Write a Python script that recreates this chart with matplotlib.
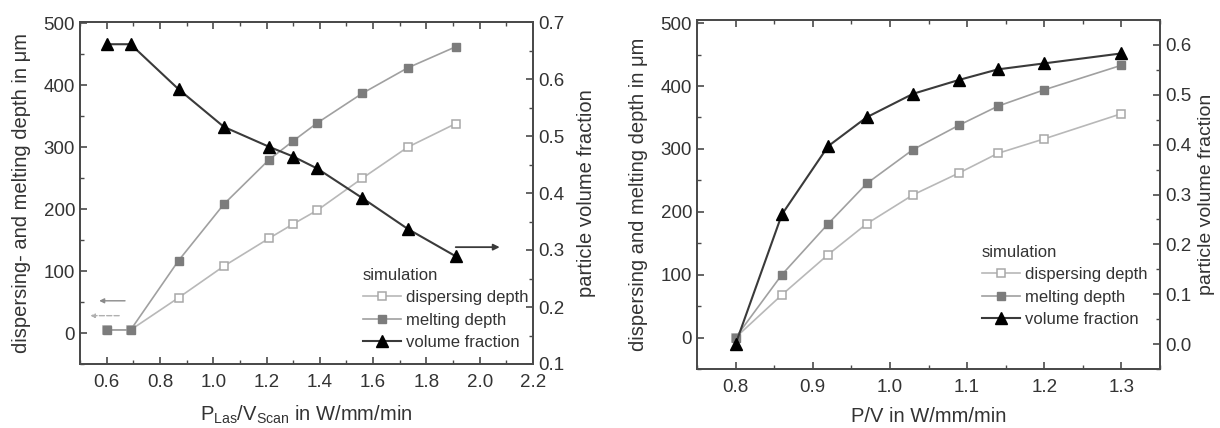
import matplotlib
matplotlib.use("Agg")
import matplotlib.pyplot as plt
from matplotlib.ticker import MultipleLocator, FormatStrFormatter

plt.rcParams['font.family'] = ['Liberation Sans', 'DejaVu Sans']
plt.rcParams['mathtext.fontset'] = 'custom'
plt.rcParams['mathtext.rm'] = 'Liberation Sans'
plt.rcParams['mathtext.it'] = 'Liberation Sans'

# ---- data: left panel ----
x_left = [0.6, 0.69, 0.87, 1.04, 1.21, 1.3, 1.39, 1.56, 1.73, 1.91]
disp_left = [5, 5, 57, 108, 153, 176, 198, 250, 300, 338]
melt_left = [5, 5, 117, 208, 280, 310, 339, 387, 428, 462]
vol_left = [0.661, 0.661, 0.582, 0.516, 0.481, 0.464, 0.443, 0.391, 0.337, 0.289]

# ---- data: right panel ----
x_right = [0.8, 0.86, 0.92, 0.97, 1.03, 1.09, 1.14, 1.2, 1.3]
disp_right = [0, 68, 132, 181, 227, 262, 293, 316, 356]
melt_right = [0, 100, 181, 245, 299, 338, 368, 394, 433]
vol_right = [0.0, 0.26, 0.397, 0.455, 0.502, 0.530, 0.551, 0.563, 0.583]

legend_title = "simulation"
labels = ["dispersing depth", "melting depth", "volume fraction"]

TXT = '#333333'
SP = '#4a4a4a'
C_DISP_L = '#b8b8b8'
C_DISP_M = '#a8a8a8'
C_MELT_L = '#a0a0a0'
C_MELT_M = '#7c7c7c'
C_VOL_L = '#3a3a3a'
C_VOL_M = '#000000'
FS = 13.5
FL = 14.5
FLEG = 12

W, H = 1220, 428
fig = plt.figure(figsize=(W / 100, H / 100), dpi=100)


def make_axes(px_left, px_right, px_top, px_bottom):
    return fig.add_axes([px_left / W, (H - px_bottom) / H,
                         (px_right - px_left) / W, (px_bottom - px_top) / H])


def style(ax, ax2):
    for a in (ax, ax2):
        for s in a.spines.values():
            s.set_color(SP)
            s.set_linewidth(1.3)
    ax.tick_params(axis='both', which='both', direction='in', colors=SP,
                   labelcolor=TXT, labelsize=FS, top=True, right=False)
    ax.tick_params(which='major', length=5, width=1.2)
    ax.tick_params(which='minor', length=3, width=1.0)
    ax.tick_params(axis='x', which='major', pad=7)
    ax2.tick_params(axis='y', which='both', direction='in', colors=SP,
                    labelcolor=TXT, labelsize=FS)
    ax2.tick_params(which='major', length=5, width=1.2)
    ax2.tick_params(which='minor', length=3, width=1.0)


def plot_panel(ax, ax2, x, disp, melt, vol):
    h1, = ax.plot(x, disp, '-', color=C_DISP_L, lw=1.2, marker='s', ms=6,
                  mfc='white', mec=C_DISP_M, mew=1.1, zorder=3)
    h2, = ax.plot(x, melt, '-', color=C_MELT_L, lw=1.2, marker='s', ms=6,
                  mfc=C_MELT_M, mec=C_MELT_M, zorder=3)
    h3, = ax2.plot(x, vol, '-', color=C_VOL_L, lw=1.5, marker='^', ms=8,
                   mfc=C_VOL_M, mec=C_VOL_M, zorder=4)
    return [h1, h2, h3]


def add_legend(ax2, handles, x_px, y_px):
    leg = ax2.legend(handles, labels, title=legend_title, loc='upper left',
                     bbox_to_anchor=(x_px / W, (H - y_px) / H), bbox_transform=fig.transFigure,
                     frameon=False, fontsize=FLEG, title_fontsize=FLEG,
                     handlelength=2.3, handletextpad=0.3, labelspacing=0.45,
                     borderaxespad=0, alignment='left')
    for t in leg.get_texts():
        t.set_color(TXT)
    leg.get_title().set_color(TXT)
    return leg


# ---------------- left panel ----------------
axL = make_axes(80, 533, 22, 364)
axL2 = axL.twinx()
hL = plot_panel(axL, axL2, x_left, disp_left, melt_left, vol_left)
axL.set_xlim(0.5, 2.2)
axL.set_ylim(-50, 502)
axL2.set_ylim(0.1, 0.7)
axL.xaxis.set_major_locator(MultipleLocator(0.2))
axL.xaxis.set_minor_locator(MultipleLocator(0.1))
axL.yaxis.set_major_locator(MultipleLocator(100))
axL.yaxis.set_minor_locator(MultipleLocator(50))
axL2.yaxis.set_major_locator(MultipleLocator(0.1))
axL2.yaxis.set_minor_locator(MultipleLocator(0.05))
axL.xaxis.set_major_formatter(FormatStrFormatter('%.1f'))
axL2.yaxis.set_major_formatter(FormatStrFormatter('%.1f'))
style(axL, axL2)
axL.set_xlabel(r'P$_{\mathrm{Las}}$/V$_{\mathrm{Scan}}$ in W/mm/min', fontsize=FL, color=TXT, labelpad=9)
axL.set_ylabel('dispersing- and melting depth in μm', fontsize=FL, color=TXT, labelpad=9)
axL2.set_ylabel('particle volume fraction', fontsize=FL, color=TXT, labelpad=9)

# arrows indicating axes
axL.annotate('', xy=(0.572, 52), xytext=(0.669, 52),
             arrowprops=dict(arrowstyle='-|>', color='#8a8a8a', lw=1.0,
                             mutation_scale=7, shrinkA=0, shrinkB=0))
axL.annotate('', xy=(0.539, 28), xytext=(0.647, 28),
             arrowprops=dict(arrowstyle='-|>', color='#b0b0b0', lw=1.0, ls='--',
                             mutation_scale=6, shrinkA=0, shrinkB=0))
axL2.annotate('', xy=(2.075, 0.305), xytext=(1.91, 0.305),
              arrowprops=dict(arrowstyle='-|>', color=C_VOL_L, lw=1.3,
                              mutation_scale=9, shrinkA=0, shrinkB=0))

add_legend(axL2, hL, 356, 261)

# ---------------- right panel ----------------
axR = make_axes(697, 1160, 20, 369)
axR2 = axR.twinx()
hR = plot_panel(axR, axR2, x_right, disp_right, melt_right, vol_right)
axR.set_xlim(0.75, 1.35)
axR.set_ylim(-50, 505)
axR2.set_ylim(-0.05, 0.65)
axR.xaxis.set_major_locator(MultipleLocator(0.1))
axR.xaxis.set_minor_locator(MultipleLocator(0.05))
axR.yaxis.set_major_locator(MultipleLocator(100))
axR.yaxis.set_minor_locator(MultipleLocator(50))
axR2.yaxis.set_major_locator(MultipleLocator(0.1))
axR2.yaxis.set_minor_locator(MultipleLocator(0.05))
axR.xaxis.set_major_formatter(FormatStrFormatter('%.1f'))
axR2.yaxis.set_major_formatter(FormatStrFormatter('%.1f'))
style(axR, axR2)
axR.set_xlabel('P/V in W/mm/min', fontsize=FL, color=TXT, labelpad=8)
axR.set_ylabel('dispersing and melting depth in μm', fontsize=FL, color=TXT, labelpad=9)
axR2.set_ylabel('particle volume fraction', fontsize=FL - 0.5, color=TXT, labelpad=5)

add_legend(axR2, hR, 975, 238)

fig.savefig('out.png', dpi=100)
